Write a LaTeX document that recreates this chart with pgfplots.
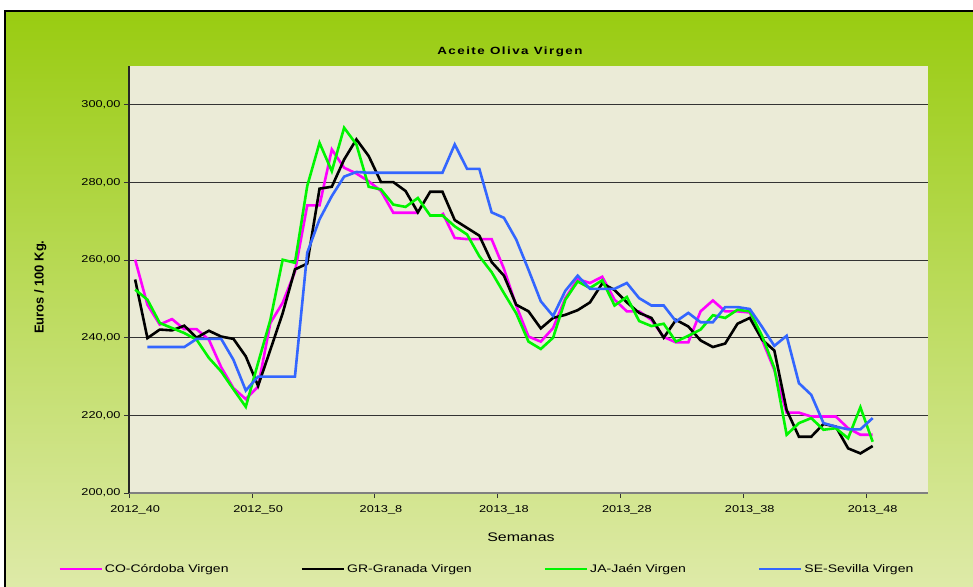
\documentclass[border=0pt]{standalone}
\usepackage{pgfplots}
\pgfplotsset{compat=1.18}
\usepackage{pgfplotstable}
\usepackage{fontspec}
\setmainfont{Liberation Sans}[FakeStretch=1.28]
\newfontfamily\ylabfont{Liberation Sans}
\newfontfamily\titlefont{Liberation Sans}[FakeStretch=1.28, LetterSpace=14]

\definecolor{bgtop}{RGB}{153,204,17}
\definecolor{bgbot}{RGB}{222,234,168}
\definecolor{plotbg}{RGB}{235,235,215}
\definecolor{cmag}{RGB}{255,0,255}
\definecolor{cgreen}{RGB}{0,245,0}
\definecolor{cblue}{RGB}{51,102,255}

\pgfplotstableread{
x co gr ja se
0.5 260.1 255.0 252.4 nan
1.5 248.5 239.9 249.8 237.6
2.5 243.4 242.1 243.8 237.6
3.5 244.8 241.9 242.5 237.6
4.5 242.2 243.1 241.2 237.6
5.5 242.2 240.0 239.5 239.7
6.5 239.5 241.8 234.8 239.7
7.5 232.4 240.3 231.3 239.7
8.5 227.0 239.7 226.7 234.3
9.5 224.2 235.2 222.2 226.4
10.5 227.4 227.6 233.5 230.0
11.5 243.8 236.9 244.6 230.0
12.5 249.0 246.3 260.1 230.0
13.5 257.0 257.6 259.3 230.0
14.5 274.1 259.1 279.1 261.9
15.5 274.1 278.4 290.2 270.5
16.5 288.5 278.9 282.9 276.5
17.5 283.8 285.9 294.1 281.5
18.5 282.3 291.1 289.8 282.7
19.5 280.3 286.8 278.9 282.5
20.5 277.8 280.1 278.2 282.5
21.5 272.2 280.1 274.3 282.5
22.5 272.2 277.8 273.7 282.5
23.5 272.2 272.3 276.0 282.5
24.5 nan 277.6 271.5 282.5
25.5 272.2 277.6 271.5 282.5
26.5 265.7 270.3 268.7 289.8
27.5 265.4 268.3 266.6 283.5
28.5 265.4 266.3 261.0 283.5
29.5 265.4 259.5 256.9 272.3
30.5 257.8 256.0 251.5 270.9
31.5 248.3 248.5 246.3 265.3
32.5 240.3 246.8 239.0 257.5
33.5 239.0 242.4 237.1 249.4
34.5 242.5 245.1 240.0 245.6
35.5 250.2 245.9 249.8 252.1
36.5 255.1 247.1 254.5 256.0
37.5 254.1 249.1 252.8 252.6
38.5 255.7 254.0 254.8 252.6
39.5 249.8 252.3 248.3 252.6
40.5 246.8 249.1 250.5 254.1
41.5 246.8 246.4 244.3 250.2
42.5 244.6 245.1 243.0 248.3
43.5 240.2 240.0 243.6 248.3
44.5 238.8 244.6 239.0 244.2
45.5 238.8 242.9 240.5 246.4
46.5 246.8 239.3 242.1 244.0
47.5 249.6 237.6 245.8 244.0
48.5 246.8 238.5 245.1 247.9
49.5 246.8 243.6 247.2 247.9
50.5 246.5 245.1 246.8 247.4
51.5 239.5 239.5 240.5 242.8
52.5 231.7 236.7 232.2 237.9
53.5 220.7 221.4 215.0 240.5
54.5 220.7 214.5 218.0 228.3
55.5 219.7 214.5 219.3 225.3
56.5 219.7 217.8 216.3 218.0
57.5 219.7 217.1 216.7 217.1
58.5 216.7 211.5 214.1 216.4
59.5 215.0 210.2 222.1 216.4
60.5 215.0 212.1 213.2 219.3
}\datatable

\begin{document}
\begin{tikzpicture}
\useasboundingbox (0,0) rectangle (973bp,-587bp);
\fill[white] (0,0) rectangle (973bp,-587bp);
\shade[top color=bgtop, bottom color=bgbot] (5bp,-11bp) rectangle (973bp,-587bp);
\draw[black, line width=1.5bp] (5bp,-587bp) -- (5bp,-11bp) -- (973bp,-11bp);
\begin{axis}[
  at={(129bp,-493bp)}, anchor=south west,
  scale only axis, width=799bp, height=427bp,
  xmin=0, xmax=65, ymin=200, ymax=310,
  axis background/.style={fill=plotbg},
  axis x line*=bottom, axis y line*=left,
  axis line style={-},
  x axis line style={draw=black!50, line width=1.6bp},
  y axis line style={draw=black!85, line width=1.2bp},
  xtick={0,10,...,60},
  xticklabels={2012\_40,2012\_50,2013\_8,2013\_18,2013\_28,2013\_38,2013\_48},
  xticklabel style={xshift=6.15bp, yshift=-4bp, font=\fontsize{10}{12}\selectfont},
  ytick={200,220,...,300},
  yticklabel style={font=\fontsize{10}{12}\selectfont},
  /pgf/number format/fixed,
  /pgf/number format/fixed zerofill,
  /pgf/number format/precision=2,
  /pgf/number format/use comma,
  /pgf/number format/assume math mode=true,
  tick align=outside, major tick length=5bp,
  tick style={black!80, line width=0.8bp},
  ymajorgrids, grid style={black!80, line width=1bp},
  unbounded coords=jump,
  title={\titlefont\bfseries Aceite Oliva Virgen},
  title style={at={(axis description cs:0.4768,1.019)}, anchor=center, font=\fontsize{10.5}{12}\selectfont},
  xlabel={Semanas},
  xlabel style={at={(axis description cs:0.4906,-0.103)}, anchor=center, font=\fontsize{12.5}{14}\selectfont},
  ylabel={\ylabfont\bfseries Euros / 100 Kg.},
  ylabel style={at={(axis description cs:-0.111,0.482)}, anchor=center, font=\fontsize{13}{15}\selectfont},
  legend columns=4,
  legend style={at={(axis description cs:-0.0925,-0.178)}, anchor=west, draw=none, fill=none,
    font=\fontsize{11}{13}\selectfont,
    /tikz/every even column/.append style={column sep=70bp}},
  legend image code/.code={\draw[#1] (0bp,0bp) -- (42bp,0bp);},
  every axis plot/.append style={line width=2.6bp, mark=none},
]
\addplot[cmag] table[x=x, y=co] {\datatable};
\addlegendentry{CO-Córdoba Virgen}
\addplot[black] table[x=x, y=gr] {\datatable};
\addlegendentry{GR-Granada Virgen}
\addplot[cgreen] table[x=x, y=ja] {\datatable};
\addlegendentry{JA-Jaén Virgen}
\addplot[cblue] table[x=x, y=se] {\datatable};
\addlegendentry{SE-Sevilla Virgen}
\end{axis}
\end{tikzpicture}
\end{document}
